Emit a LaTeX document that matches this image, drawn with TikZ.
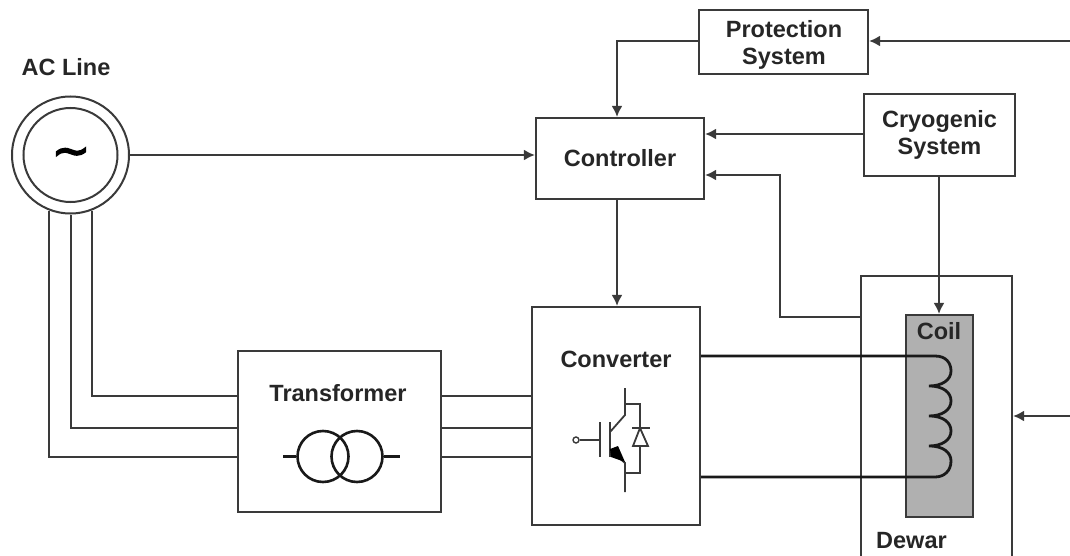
\documentclass[tikz,border=0pt]{standalone}
\usepackage{fontspec}
\setmainfont{Liberation Sans}
\newfontfamily\tildefont[FakeBold=3]{DejaVu Sans}
\usetikzlibrary{arrows.meta,calc}
\definecolor{ln}{HTML}{3A3A3A}
\definecolor{coilfill}{HTML}{B0B0B0}
\tikzset{
 x=1pt,y=-1pt,
 wire/.style={draw=ln,line width=2pt},
 arr/.style={wire,-{Latex[length=11pt,width=11pt]}},
 thickwire/.style={draw=black!90,line width=2.8pt},
 box/.style={draw=ln,line width=2.2pt,fill=white,inner sep=0pt,align=center,font=\bfseries\fontsize{23.5}{27}\selectfont,text=black!85},
 lbl/.style={inner sep=0pt,align=center,font=\bfseries\fontsize{23.5}{27}\selectfont,text=black!85},
 sym/.style={draw=ln,line width=1.8pt},
 tsym/.style={draw=black!90,line width=2.6pt},
}
\begin{document}
\begin{tikzpicture}
\useasboundingbox (0,0) rectangle (1070,556);
\clip (0,0) rectangle (1070,556);
% free ends
\coordinate (rtop) at (1072,41);
\coordinate (rbot) at (1072,416);
% boxes
\node[box,minimum width=169pt,minimum height=64pt] (prot) at (783.5,42) {};
\node[lbl] (protlbl) at (784,44.5) {Protection\\System};
\node[box,minimum width=151pt,minimum height=82pt] (cryo) at (939.5,135) {Cryogenic\\System};
\node[box,minimum width=168pt,minimum height=81pt] (ctrl) at (620,158.5) {Controller};
\node[box,minimum width=168pt,minimum height=218pt] (conv) at (616,416) {};
\node[box,minimum width=203pt,minimum height=161pt] (trans) at (339.5,431.5) {};
\node[box,minimum width=151pt,minimum height=300pt] (dewar) at (936.5,426) {};
\node[box,fill=coilfill,minimum width=67pt,minimum height=202pt] (coil) at (939.5,416) {};
\node[draw=ln,line width=2pt,circle,minimum size=117pt,inner sep=0pt] (acout) at (70.5,155) {};
\node[draw=ln,line width=2pt,circle,minimum size=94pt,inner sep=0pt] (acin) at (70.5,155) {};
% labels
\node[lbl] (aclbl) at (66,67) {AC Line};
\node[lbl] (convlbl) at (616,359) {Converter};
\node[lbl] (translbl) at (338,393) {Transformer};
\node[lbl] (coillbl) at (939,331) {Coil};
\node[lbl,anchor=west] (dewlbl) at (876,541) {Dewar};
\node[inner sep=0pt,font=\tildefont\fontsize{46}{46}\selectfont,text=black] (tilde) at (71,157) {\char"7E};
% signal connectors
\draw[arr] (acout.east) -- (ctrl.west |- acout.east);
\draw[arr] (prot.west |- rtop) -| (ctrl.north -| 617,0);
\draw[arr] (rtop) -- (prot.east |- rtop);
\draw[arr] (cryo.west |- 0,134) -- (ctrl.east |- 0,134);
\draw[arr] (cryo.south -| 939,0) -- (coil.north -| 939,0);
\draw[arr] (dewar.west |- 0,317) -- (780,317) |- (ctrl.east |- 0,175);
\draw[arr] (ctrl.south -| 617,0) -- (conv.north -| 617,0);
\draw[arr] (rbot) -- (dewar.east |- rbot);
% AC lines
\draw[wire] (acout.249) |- (trans.west |- 0,457);
\draw[wire] (acout.south) |- (trans.west |- 0,428);
\draw[wire] (acout.291) |- (trans.west |- 0,396);
\draw[wire] (trans.east |- 0,396) -- (conv.west |- 0,396);
\draw[wire] (trans.east |- 0,428) -- (conv.west |- 0,428);
\draw[wire] (trans.east |- 0,457) -- (conv.west |- 0,457);
% coil winding
\draw[thickwire] (conv.east |- 0,356) -- (935,356)
  .. controls (946,356) and (951,363) .. (951,371)
  .. controls (951,380) and (942,386) .. (929,386)
  .. controls (944,386) and (951,393) .. (951,401)
  .. controls (951,410) and (942,416) .. (929,416)
  .. controls (944,416) and (951,423) .. (951,431)
  .. controls (951,440) and (942,446) .. (929,446)
  .. controls (944,446) and (951,453) .. (951,461)
  .. controls (951,471) and (944,477) .. (935,477)
  -- (conv.east |- 0,477);
% transformer symbol
\node[tsym,circle,minimum size=51pt,inner sep=0pt] (t1) at (323,456.5) {};
\node[tsym,circle,minimum size=51pt,inner sep=0pt] (t2) at (357,456.5) {};
\draw[tsym] (283,456.5) -- (t1.west);
\draw[tsym] (t2.east) -- (400,456.5);
% IGBT
\node[draw=ln,line width=1.4pt,circle,minimum size=6pt,inner sep=0pt] (gate) at (576,440) {};
\draw[sym] (gate) -- (600,440);
\draw[sym] (600,422) -- (600,457);
\draw[sym] (610,422) -- (610,457);
\draw[sym] (610,432) -- (625,415) -- (625,388);
\draw[sym] (610,450) -- (625,463) -- (625,492);
\draw[sym] (625,404) -- (640,404) -- (640,428);
\draw[sym] (640,446) -- (640,473) -- (625,473);
\draw[sym] (632,428) -- (650,428);
\draw[sym] (640,428) -- (648,446) -- (633,446) -- cycle;
\fill[black] (610,449) -- (618,446) -- (625,462) -- (611,457) -- cycle;
\end{tikzpicture}
\end{document}
